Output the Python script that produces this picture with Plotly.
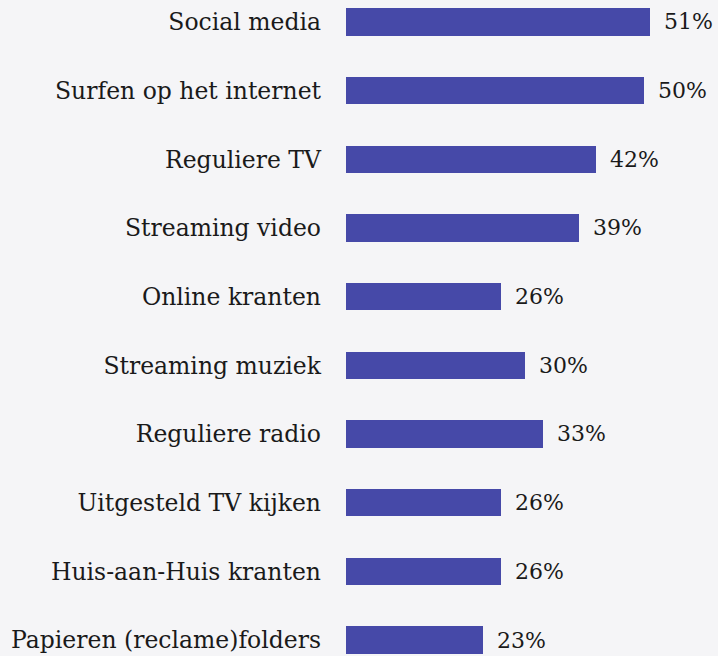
import plotly.graph_objects as go

categories = [
    "Social media",
    "Surfen op het internet",
    "Reguliere TV",
    "Streaming video",
    "Online kranten",
    "Streaming muziek",
    "Reguliere radio",
    "Uitgesteld TV kijken",
    "Huis-aan-Huis kranten",
    "Papieren (reclame)folders",
]
values = [51, 50, 42, 39, 26, 30, 33, 26, 26, 23]
value_labels = [f"{v}%" for v in values]

BG = "#f5f5f7"
BAR = "#4649a8"
FONT = "DejaVu Serif"

fig = go.Figure()
fig.add_trace(go.Bar(
    y=categories,
    x=values,
    orientation="h",
    marker=dict(color=BAR, line=dict(width=0)),
    width=0.40,
    hoverinfo="skip",
))

for c, v, t in zip(categories, values, value_labels):
    fig.add_annotation(
        x=v, y=c, text=t, showarrow=False,
        xanchor="left", yanchor="middle", xshift=12,
        font=dict(family=FONT, size=22, color="#1a1a1a"),
    )

fig.update_layout(
    width=718, height=656,
    margin=dict(l=346, r=0, t=0, b=0),
    paper_bgcolor=BG, plot_bgcolor=BG,
    showlegend=False,
    bargap=0,
)
fig.update_xaxes(
    range=[0, 62.4], visible=False, showgrid=False, zeroline=False,
)
fig.update_yaxes(
    categoryorder="array", categoryarray=categories,
    range=[9.233, -0.32],
    showgrid=False, zeroline=False, showline=False, ticks="",
    ticklabelstandoff=24,
    tickfont=dict(family=FONT, size=23.5, color="#1a1a1a"),
)

fig.write_html(
    "out.html",
    config={"displayModeBar": False},
    post_script="document.body.style.margin='0';document.body.style.background='%s';" % BG,
)
